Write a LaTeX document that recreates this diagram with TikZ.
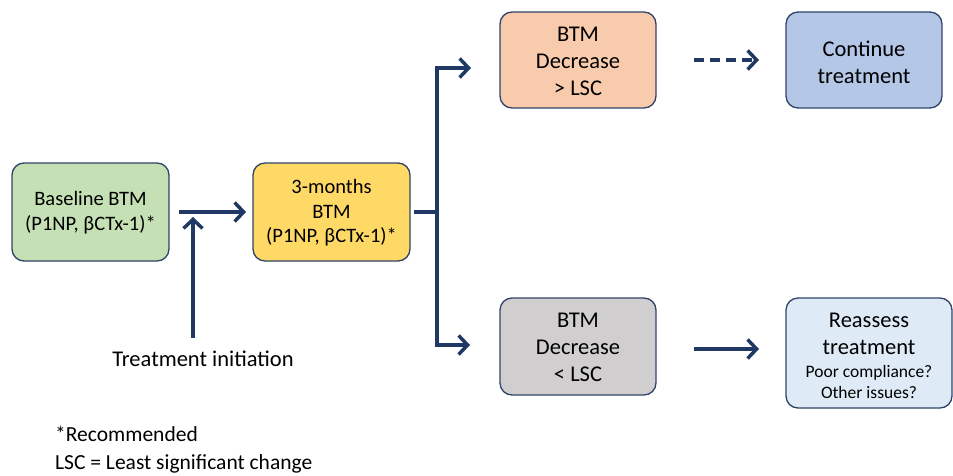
\documentclass[tikz,border=0pt]{standalone}
\usepackage{fontspec}
\setmainfont{Carlito}
\usetikzlibrary{arrows.meta}
\definecolor{navy}{HTML}{203864}
\definecolor{boxline}{HTML}{2F4468}
\definecolor{cgreen}{HTML}{C5E0B4}
\definecolor{cyellow}{HTML}{FFD966}
\definecolor{corange}{HTML}{F8CBAD}
\definecolor{cblue}{HTML}{B4C7E7}
\definecolor{cgray}{HTML}{D0CECE}
\definecolor{clight}{HTML}{DEEBF7}
\tikzset{
  box/.style={draw=boxline, line width=1.3pt, rounded corners=12pt, inner sep=0pt},
  txt/.style={align=center, inner sep=0pt, text=black},
  conn/.style={draw=navy, line width=3.5pt, -{Straight Barb[length=9pt,width=19pt,line width=3.5pt]}},
  plain/.style={draw=navy, line width=3.5pt},
}
\begin{document}
\begin{tikzpicture}[x=1pt,y=-1pt]
\useasboundingbox (0,0) rectangle (953,476);
% boxes
\draw[box, fill=cgreen] (12,163) rectangle (169,261);
\node[txt, font=\fontsize{20.5}{25}\selectfont] (base) at (90.5,213) {Baseline BTM\\(P1NP, βCTx-1)*};
\draw[box, fill=cyellow] (253,163) rectangle (410,261);
\node[txt, font=\fontsize{20.5}{24.5}\selectfont] (three) at (331.5,213) {3-months\\BTM\\(P1NP, βCTx-1)*};
\draw[box, fill=corange] (500,12) rectangle (656,108);
\node[txt, font=\fontsize{22.5}{27}\selectfont] (up) at (578,61) {BTM\\Decrease\\> LSC};
\draw[box, fill=cblue] (786,12) rectangle (942,108);
\node[txt, font=\fontsize{22.5}{27}\selectfont] (cont) at (864,62) {Continue\\treatment};
\draw[box, fill=cgray] (500,298) rectangle (656,395);
\node[txt, font=\fontsize{22.5}{27}\selectfont] (down) at (578,347) {BTM\\Decrease\\< LSC};
\draw[box, fill=clight] (786,298) rectangle (952,408);
\node[txt, font=\fontsize{22.5}{27}\selectfont] (reas) at (869,334) {Reassess\\treatment};
\node[txt, font=\fontsize{17.5}{20.5}\selectfont] (reasb) at (869,382) {Poor compliance?\\Other issues?};
% labels
\node[txt, font=\fontsize{22.5}{26}\selectfont] (ti) at (203,359) {Treatment initiation};
\node[txt, font=\fontsize{21.5}{28}\selectfont, align=left, anchor=north west] (foot) at (55,426) {*Recommended\\LSC = Least significant change};
% coordinates
\coordinate (a1) at (179,212);
\coordinate (a2) at (246,212);
\coordinate (t1) at (193,338);
\coordinate (t2) at (193,217);
\coordinate (s0) at (414,212);
\coordinate (s1) at (437,212);
\coordinate (top) at (437,68);
\coordinate (bot) at (437,345);
\coordinate (topE) at (471,68);
\coordinate (botE) at (470,345);
\coordinate (d1) at (694,60);
\coordinate (d2) at (759,60);
\coordinate (e1) at (694,349);
\coordinate (e2) at (759,349);
% connectors
\draw[conn] (a1) -- (a2);
\draw[conn] (t1) -- (t2);
\draw[plain] (s0) -- (s1);
\draw[conn, line join=miter] (s1) -- (top) -- (topE);
\draw[conn, line join=miter] (s1) -- (bot) -- (botE);
\draw[conn, dash pattern=on 10pt off 6pt] (d1) -- (d2);
\draw[conn] (e1) -- (e2);
\end{tikzpicture}
\end{document}
